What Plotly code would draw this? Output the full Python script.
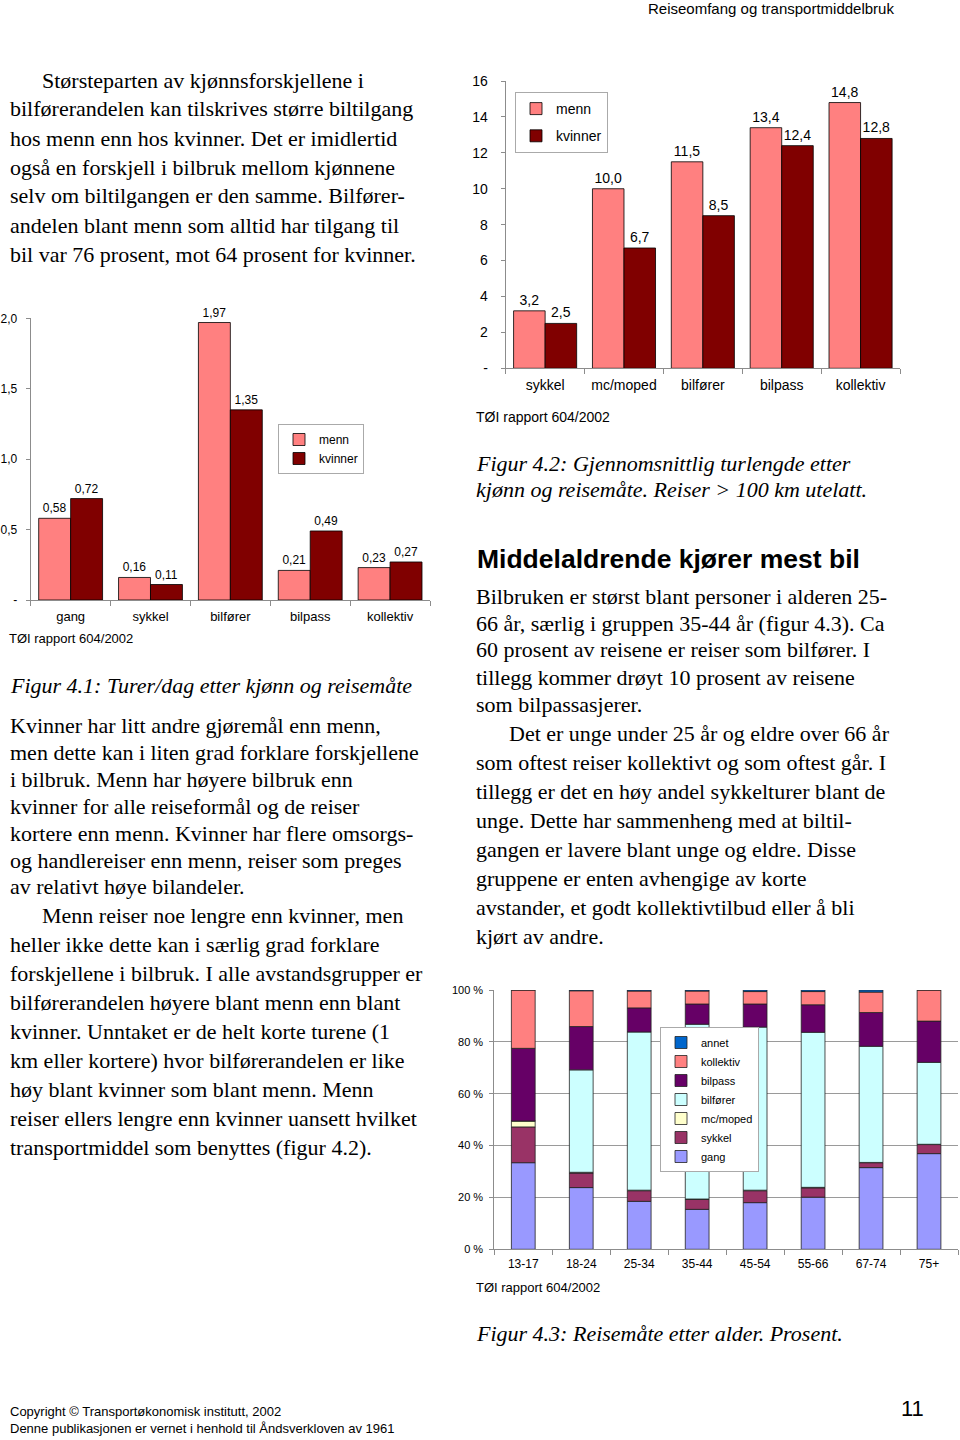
import numpy as np
import plotly.graph_objects as go

W, H = 960, 1440
def X(px): return px / W
def Y(py): return 1 - py / H

# ---------------- data ----------------
# Figur 4.1: turer/dag
cat41 = ["gang", "sykkel", "bilfører", "bilpass", "kollektiv"]
menn41 = [0.58, 0.16, 1.97, 0.21, 0.23]
kvinner41 = [0.72, 0.11, 1.35, 0.49, 0.27]
ytick41 = [0, 0.5, 1.0, 1.5, 2.0]
ytext41 = ["-", "0,5", "1,0", "1,5", "2,0"]

# Figur 4.2: gjennomsnittlig turlengde (km)
cat42 = ["sykkel", "mc/moped", "bilfører", "bilpass", "kollektiv"]
menn42 = [3.2, 10.0, 11.5, 13.4, 14.8]
kvinner42 = [2.5, 6.7, 8.5, 12.4, 12.8]
ytick42 = [0, 2, 4, 6, 8, 10, 12, 14, 16]
ytext42 = ["-", "2", "4", "6", "8", "10", "12", "14", "16"]

# Figur 4.3: reisemåte etter alder (prosent)
ages = ["13-17", "18-24", "25-34", "35-44", "45-54", "55-66", "67-74", "75+"]
gang = [33.4, 23.8, 18.5, 15.4, 18.0, 20.1, 31.5, 36.9]
sykkel = [13.8, 5.6, 4.1, 3.8, 4.6, 3.6, 1.9, 3.5]
mcmoped = [2.3, 0.3, 0.2, 0.2, 0.2, 0.2, 0.1, 0.1]
bilforer = [0.0, 39.5, 61.0, 67.4, 62.9, 59.8, 44.8, 31.6]
bilpass = [28.0, 16.7, 9.3, 7.8, 8.9, 10.6, 13.0, 15.9]
kollektiv = [22.5, 13.8, 6.5, 5.0, 4.8, 5.1, 7.9, 12.0]
annet = [0.0, 0.3, 0.4, 0.4, 0.6, 0.6, 0.8, 0.0]
ytick43 = [0, 20, 40, 60, 80, 100]
ytext43 = ["0 %", "20 %", "40 %", "60 %", "80 %", "100 %"]

modes43 = [("gang", gang, "#9999FF"), ("sykkel", sykkel, "#993366"),
           ("mc/moped", mcmoped, "#FFFFCC"), ("bilfører", bilforer, "#CCFFFF"),
           ("bilpass", bilpass, "#660066"), ("kollektiv", kollektiv, "#FF8080"),
           ("annet", annet, "#0066CC")]

MENN_C = "#FF8080"
KVIN_C = "#800000"
SANS = "Liberation Sans, Arial, sans-serif"
SERIF = "Liberation Serif, Times New Roman, serif"
AXC = "#8c8c8c"

fig = go.Figure()

# ---- Fig 4.1 ----
for name, vals, col in [("menn", menn41, MENN_C), ("kvinner", kvinner41, KVIN_C)]:
    fig.add_trace(go.Bar(x=cat41, y=vals, name=name, marker=dict(color=col, line=dict(color="#000", width=0.8)),
                         text=vals, texttemplate="%{y:.2f}", textposition="outside",
                         textfont=dict(family=SANS, size=12, color="#000"), constraintext="none",
                         cliponaxis=False, xaxis="x", yaxis="y", legend="legend", hoverinfo="skip"))

# ---- Fig 4.2 ----
for name, vals, col in [("menn", menn42, MENN_C), ("kvinner", kvinner42, KVIN_C)]:
    fig.add_trace(go.Bar(x=cat42, y=vals, name=name, marker=dict(color=col, line=dict(color="#000", width=0.8)),
                         text=vals, texttemplate="%{y:.1f}", textposition="outside",
                         textfont=dict(family=SANS, size=14, color="#000"), constraintext="none",
                         cliponaxis=False, xaxis="x2", yaxis="y2", legend="legend2",
                         legendgroup=name + "42", hoverinfo="skip"))

# ---- Fig 4.3 (stacked via explicit base) ----
cum = np.zeros(len(ages))
for name, vals, col in modes43:
    v = np.array(vals, dtype=float)
    fig.add_trace(go.Bar(x=ages, y=v, base=cum.copy(), name=name, width=0.41, offset=-0.205,
                         marker=dict(color=col, line=dict(color="#222", width=0.8)),
                         xaxis="x3", yaxis="y3", legend="legend3", hoverinfo="skip"))
    cum = cum + v

tickfont = lambda s: dict(family=SANS, size=s, color="#000")

fig.update_layout(
    template="none",
    width=W, height=H, margin=dict(l=0, r=0, t=0, b=0, pad=0), autosize=False,
    paper_bgcolor="white", plot_bgcolor="rgba(0,0,0,0)",
    barmode="group", bargap=0.2, bargroupgap=0.0,
    separators=", ",
    font=dict(family=SANS, color="#000"),
    xaxis=dict(domain=[X(30.7), X(430)], anchor="y", type="category", showline=True, linecolor=AXC,
               ticks="outside", tickson="boundaries", ticklen=5, tickcolor=AXC, tickfont=tickfont(13),
               ticklabelstandoff=4, showgrid=False, zeroline=False, fixedrange=True, automargin=False),
    yaxis=dict(domain=[Y(600), Y(318.3)], anchor="x", range=[0, 2.0], showline=True, linecolor=AXC,
               tickvals=ytick41, ticktext=ytext41, ticks="outside", ticklen=4, tickcolor=AXC,
               tickfont=tickfont(12), ticklabelstandoff=6, showgrid=False, zeroline=False, fixedrange=True,
               automargin=False),
    xaxis2=dict(domain=[X(505.7), X(900)], anchor="y2", type="category", showline=True, linecolor=AXC,
                ticks="outside", tickson="boundaries", ticklen=5, tickcolor=AXC, tickfont=tickfont(14),
                ticklabelstandoff=4, showgrid=False, zeroline=False, fixedrange=True, automargin=False),
    yaxis2=dict(domain=[Y(368.3), Y(81)], anchor="x2", range=[0, 16], showline=True, linecolor=AXC,
                tickvals=ytick42, ticktext=ytext42, ticks="outside", ticklen=4, tickcolor=AXC,
                tickfont=tickfont(14), ticklabelstandoff=10, showgrid=False, zeroline=False, fixedrange=True,
                automargin=False),
    xaxis3=dict(domain=[X(494.3), X(958)], anchor="y3", type="category", showline=True, linecolor=AXC,
                ticks="outside", tickson="boundaries", ticklen=5, tickcolor=AXC, tickfont=tickfont(12),
                ticklabelstandoff=3, showgrid=False, zeroline=False, fixedrange=True, automargin=False),
    yaxis3=dict(domain=[Y(1249.3), Y(990)], anchor="x3", range=[0, 100], showline=True, linecolor=AXC,
                tickvals=ytick43, ticktext=ytext43, ticks="outside", ticklen=4, tickcolor=AXC,
                tickfont=tickfont(11), ticklabelstandoff=4, showgrid=True, gridcolor="#9a9a9a",
                gridwidth=1, zeroline=False, fixedrange=True, automargin=False),
    legend=dict(x=X(278), y=Y(424), xanchor="left", yanchor="top", bgcolor="white", bordercolor="#aaa",
                borderwidth=1, font=dict(family=SANS, size=12), itemwidth=30, tracegroupgap=0),
    legend2=dict(x=X(515), y=Y(92), xanchor="left", yanchor="top", bgcolor="white", bordercolor="#aaa",
                 borderwidth=1, font=dict(family=SANS, size=14), itemwidth=30, tracegroupgap=6,
                 traceorder="grouped"),
    legend3=dict(x=X(660), y=Y(1027), xanchor="left", yanchor="top", bgcolor="white", bordercolor="#aaa",
                 borderwidth=1, font=dict(family=SANS, size=11), itemwidth=30, traceorder="reversed",
                 tracegroupgap=0),
)

ann = []
def line(txt, px, py, size=22, family=SERIF, italic=False, bold=False, anchor="left"):
    t = txt
    if bold:
        t = "<b>" + t + "</b>"
    if italic:
        t = "<i>" + t + "</i>"
    ann.append(dict(text=t, x=X(px), y=Y(py), xref="paper", yref="paper", xanchor=anchor, yanchor="middle",
                    showarrow=False, font=dict(family=family, size=size, color="#000"), borderpad=0))

def para(lines, x0, ys, indent=None, size=22):
    for i, (t, yy) in enumerate(zip(lines, ys)):
        xx = indent if (i == 0 and indent is not None) else x0
        line(t, xx, yy, size=size)

# header
line("Reiseomfang og transportmiddelbruk", 895, 9, size=15, family=SANS, anchor="right")

# left column paragraph 1
p1 = ["Størsteparten av kjønnsforskjellene i",
      "bilførerandelen kan tilskrives større biltilgang",
      "hos menn enn hos kvinner. Det er imidlertid",
      "også en forskjell i bilbruk mellom kjønnene",
      "selv om biltilgangen er den samme. Bilfører-",
      "andelen blant menn som alltid har tilgang til",
      "bil var 76 prosent, mot 64 prosent for kvinner."]
para(p1, 9, [80, 109, 138, 167, 196, 225, 254], indent=41)

# chart source notes
line("TØI rapport 604/2002", 8, 638, size=13, family=SANS)
line("TØI rapport 604/2002", 475, 417, size=14, family=SANS)
line("TØI rapport 604/2002", 475, 1287, size=13, family=SANS)

# captions
line("Figur 4.1: Turer/dag etter kjønn og reisemåte", 9, 685, italic=True)
line("Figur 4.2: Gjennomsnittlig turlengde etter", 475, 463, italic=True)
line("kjønn og reisemåte. Reiser &gt; 100 km utelatt.", 475, 489, italic=True)
line("Figur 4.3: Reisemåte etter alder. Prosent.", 475, 1333, italic=True)

# left column paragraph 2 & 3
p2 = ["Kvinner har litt andre gjøremål enn menn,",
      "men dette kan i liten grad forklare forskjellene",
      "i bilbruk. Menn har høyere bilbruk enn",
      "kvinner for alle reiseformål og de reiser",
      "kortere enn menn. Kvinner har flere omsorgs-",
      "og handlereiser enn menn, reiser som preges",
      "av relativt høye bilandeler."]
para(p2, 9, [725, 752, 779, 806, 833, 860, 886])
p3 = ["Menn reiser noe lengre enn kvinner, men",
      "heller ikke dette kan i særlig grad forklare",
      "forskjellene i bilbruk. I alle avstandsgrupper er",
      "bilførerandelen høyere blant menn enn blant",
      "kvinner. Unntaket er de helt korte turene (1",
      "km eller kortere) hvor bilførerandelen er like",
      "høy blant kvinner som blant menn. Menn",
      "reiser ellers lengre enn kvinner uansett hvilket",
      "transportmiddel som benyttes (figur 4.2)."]
para(p3, 9, [915, 944, 973, 1002, 1031, 1060, 1089, 1118, 1147], indent=41)

# right column heading and paragraphs
line("Middelaldrende kjører mest bil", 476, 559, size=26.5, family=SANS, bold=True)
p4 = ["Bilbruken er størst blant personer i alderen 25-",
      "66 år, særlig i gruppen 35-44 år (figur 4.3). Ca",
      "60 prosent av reisene er reiser som bilfører. I",
      "tillegg kommer drøyt 10 prosent av reisene",
      "som bilpassasjerer."]
para(p4, 475, [596, 623, 650, 677, 704])
p5 = ["Det er unge under 25 år og eldre over 66 år",
      "som oftest reiser kollektivt og som oftest går. I",
      "tillegg er det en høy andel sykkelturer blant de",
      "unge. Dette har sammenheng med at biltil-",
      "gangen er lavere blant unge og eldre. Disse",
      "gruppene er enten avhengige av korte",
      "avstander, et godt kollektivtilbud eller å bli",
      "kjørt av andre."]
para(p5, 475, [733, 762, 791, 820, 849, 878, 907, 936], indent=508)

# footer
line("Copyright © Transportøkonomisk institutt, 2002", 9, 1411, size=13, family=SANS)
line("Denne publikasjonen er vernet i henhold til Åndsverkloven av 1961", 9, 1428, size=13, family=SANS)
line("11", 925, 1408, size=22, family=SANS, anchor="right")

fig.update_layout(annotations=ann)
fig.write_html("out.html",
               config={"displayModeBar": False, "staticPlot": True},
               post_script="document.body.style.margin='0';document.body.style.padding='0';"
                           "document.body.style.overflow='hidden';")
